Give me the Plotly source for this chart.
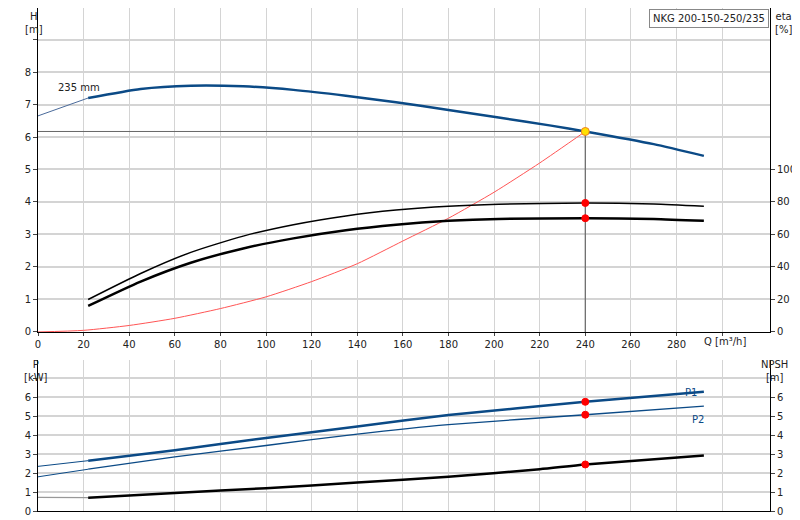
import plotly.graph_objects as go

q_h = [0, 22, 45, 67, 90, 112, 135, 157, 180, 202, 225, 240, 270, 292]
h = [6.65, 7.2, 7.48, 7.58, 7.56, 7.45, 7.27, 7.07, 6.83, 6.6, 6.35, 6.17, 5.78, 5.42]
q_eta = [22, 45, 67, 90, 112, 135, 157, 180, 202, 240, 270, 292]
eta_pump = [20, 36, 49, 59, 66, 71.4, 75, 77.4, 78.6, 79.4, 78.8, 77.4]
eta_total = [16, 31, 42.6, 51.4, 57.6, 62.6, 66, 68.4, 69.6, 70, 69.6, 68.4]
q_sys = [0, 20, 40, 60, 80, 100, 120, 140, 160, 180, 200, 220, 240]
h_sys = [0, 0.05, 0.2, 0.42, 0.72, 1.08, 1.55, 2.1, 2.8, 3.5, 4.3, 5.2, 6.17]
q_p = [0, 22, 60, 100, 140, 180, 240, 292]
p1 = [2.35, 2.65, 3.2, 3.85, 4.45, 5.05, 5.75, 6.28]
p2 = [1.8, 2.2, 2.85, 3.45, 4.05, 4.55, 5.07, 5.52]
q_n = [0, 22, 60, 100, 140, 180, 220, 240, 292]
npsh = [0.72, 0.7, 0.95, 1.2, 1.5, 1.8, 2.2, 2.45, 2.92]
q_op = 240
h_op = 6.17
eta_op = [79.4, 70]
p_op = [5.75, 5.07]
npsh_op = 2.45

BLUE = "#0b4a86"
F = dict(family="DejaVu Sans", size=10, color="#222")
fig = go.Figure()
def L(x, y, xa, ya, color, w, dash=None):
    fig.add_trace(go.Scatter(x=x, y=y, xaxis=xa, yaxis=ya, mode="lines",
                             line=dict(color=color, width=w, dash=dash, shape="spline", smoothing=0.6),
                             showlegend=False, hoverinfo="skip"))
def M(x, y, xa, ya, color, size=7, lc=None):
    fig.add_trace(go.Scatter(x=x, y=y, xaxis=xa, yaxis=ya, mode="markers",
                             marker=dict(color=color, size=size, line=dict(color=lc or color, width=1)),
                             showlegend=False, hoverinfo="skip"))

# top
L([0, q_op], [h_op, h_op], "x", "y", "#666", 1)
L([q_op, q_op], [0, h_op], "x", "y", "#666", 1.2)
L(q_h[:2], h[:2], "x", "y", "#4a6a9a", 1)
L(q_h[1:], h[1:], "x", "y", BLUE, 2.5)
L(q_sys, h_sys, "x", "y", "#ff5555", 1)
L(q_eta, eta_pump, "x", "y2", "black", 1.5)
L(q_eta, eta_total, "x", "y2", "black", 2.5)
M([q_op, q_op], eta_op, "x", "y2", "red", 7)
M([q_op], [h_op], "x", "y", "#ffe000", 8, "#f08020")
# bottom
L(q_p[:2], p1[:2], "x2", "y3", BLUE, 1)
L(q_p[1:], p1[1:], "x2", "y3", BLUE, 2.5)
L(q_p[:2], p2[:2], "x2", "y3", BLUE, 1)
L(q_p[1:], p2[1:], "x2", "y3", BLUE, 1.3)
L(q_n[:2], npsh[:2], "x2", "y4", "#999", 1.2)
L(q_n[1:], npsh[1:], "x2", "y4", "black", 2.5)
M([q_op, q_op], p_op, "x2", "y3", "red", 7)
M([q_op], [npsh_op], "x2", "y4", "red", 7)

XR = [0, 321]
xt = list(range(0, 301, 20))
grid = dict(showgrid=True, gridcolor="#d4d4d4", zeroline=False, tickfont=F, automargin=False)
fig.update_layout(
    width=800, height=520, margin=dict(l=0, r=0, t=0, b=0, autoexpand=False),
    plot_bgcolor="white", paper_bgcolor="white", font=F,
    xaxis=dict(domain=[0.0375, 0.9525], range=XR, tickvals=xt,
               ticktext=[str(v) for v in xt[:-1]] + [""], ticks="outside", ticklen=3,
               anchor="y", showline=True, linecolor="black", **grid),
    yaxis=dict(domain=[0.377, 1], range=[0, 9.97], tickvals=list(range(0, 10)),
               ticktext=[str(v) for v in range(0, 9)] + [""], ticks="outside", ticklen=4,
               showline=True, linecolor="black", gridwidth=2, **grid),
    yaxis2=dict(overlaying="y", side="right", range=[0, 199.4], tickvals=list(range(0, 101, 20)),
                ticks="outside", ticklen=4, showline=True, linecolor="black", automargin=False,
                showgrid=False, zeroline=False, tickfont=F, anchor="x"),
    xaxis2=dict(domain=[0.0375, 0.9525], range=XR, tickvals=xt, showticklabels=False,
                anchor="y3", showline=True, linecolor="black", **grid),
    yaxis3=dict(domain=[0.0327, 0.323], range=[0, 7.95], tickvals=list(range(0, 8)),
                ticktext=[str(v) for v in range(0, 7)] + [""], ticks="outside", ticklen=4,
                anchor="x2", showline=True, linecolor="black", gridwidth=2, **grid),
    yaxis4=dict(overlaying="y3", side="right", range=[0, 7.95], tickvals=list(range(0, 8)),
                ticktext=[str(v) for v in range(0, 7)] + [""], ticks="outside", ticklen=4, automargin=False,
                anchor="x2", showline=True, linecolor="black", showgrid=False, zeroline=False, tickfont=F),
)
ann = [
    dict(x=0.019, y=0.998, text="H<br>[m]", yanchor="top"),
    dict(x=0.983, y=0.998, text="eta<br>[%]", yanchor="top"),
    dict(x=0.925, y=0.358, text="Q [m³/h]", yanchor="middle"),
    dict(x=0.017, y=0.328, text="P<br>[kW]", yanchor="top"),
    dict(x=0.977, y=0.328, text="NPSH<br>[m]", yanchor="top"),
]
for a in ann:
    fig.add_annotation(xref="paper", yref="paper", showarrow=False, font=F, align="center", **a)
fig.add_annotation(x=8, y=7.52, xref="x", yref="y", text="235 mm", showarrow=False, font=F, xanchor="left")
fig.add_annotation(x=290, y=5.85, xref="x2", yref="y3", text="P1", showarrow=False,
                   font=dict(family="DejaVu Sans", size=10, color=BLUE), xanchor="right", yanchor="bottom")
fig.add_annotation(x=286, y=5.2, xref="x2", yref="y3", text="P2", showarrow=False,
                   font=dict(family="DejaVu Sans", size=10, color=BLUE), xanchor="left", yanchor="top")
fig.add_annotation(xref="paper", yref="paper", x=0.951, y=0.999, xanchor="right", yanchor="top",
                   text="NKG 200-150-250/235", showarrow=False, font=F,
                   bordercolor="#888", borderwidth=1, borderpad=3, bgcolor="white")
fig.write_html("out.html")
